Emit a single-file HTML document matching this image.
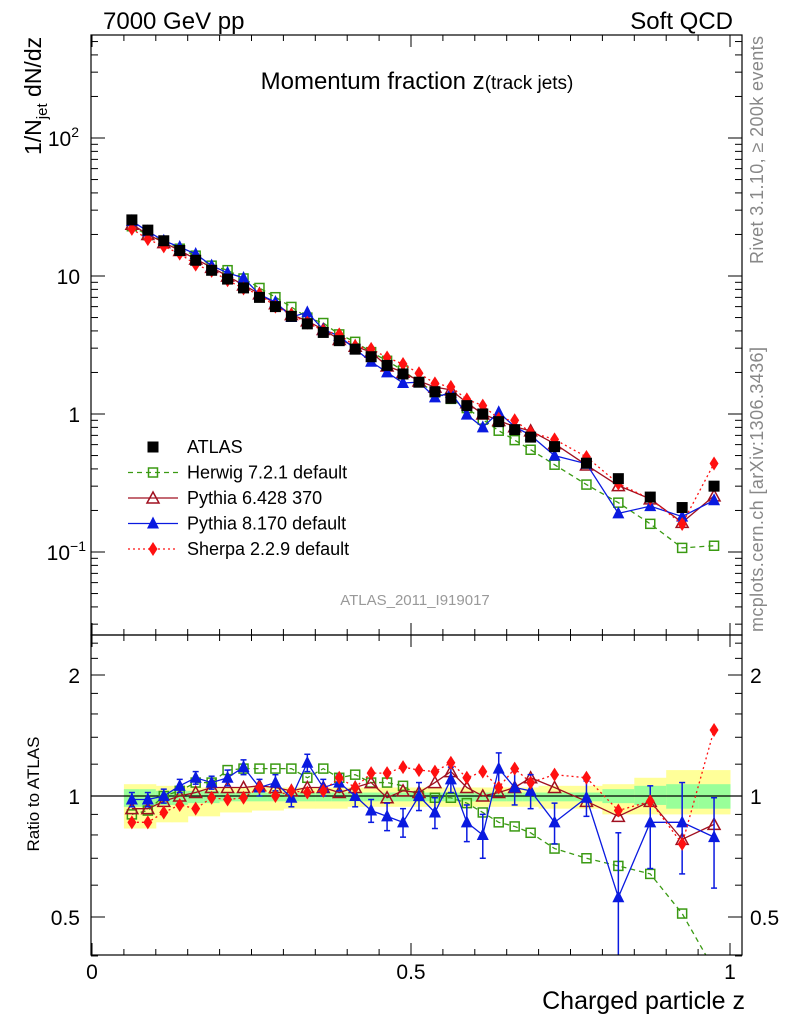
<!DOCTYPE html>
<html><head><meta charset="utf-8"><style>
html,body{margin:0;padding:0;background:#fff}
svg{display:block;font-family:"Liberation Sans",sans-serif}
</style></head><body>
<svg id="c" width="786" height="1024" viewBox="0 0 786 1024" xmlns="http://www.w3.org/2000/svg">
<text x="103" y="29" font-size="24">7000 GeV pp</text>
<text x="733" y="29" font-size="24" text-anchor="end">Soft QCD</text>
<text x="417" y="89" font-size="24" text-anchor="middle">Momentum fraction z<tspan font-size="19">(track jets)</tspan></text>
<text transform="translate(41,155) rotate(-90)" font-size="23">1/N<tspan font-size="15" dy="6">jet</tspan><tspan dy="-6"> dN/dz</tspan></text>
<text transform="translate(39,794) rotate(-90)" font-size="17" text-anchor="middle">Ratio to ATLAS</text>
<text transform="translate(763,36) rotate(-90)" font-size="18" fill="#888" text-anchor="end" textLength="228">Rivet 3.1.10, ≥ 200k events</text>
<text transform="translate(763,632) rotate(-90)" font-size="18" fill="#888" textLength="285">mcplots.cern.ch [arXiv:1306.3436]</text>
<text x="415" y="605" font-size="15" fill="#999" text-anchor="middle">ATLAS_2011_I919017</text>
<text x="745" y="1009" font-size="25" text-anchor="end">Charged particle z</text>
<g id="bands"></g><g id="series"></g><g id="axes"></g><g id="legend"></g>
</svg>
<script>
const zVals=[0.0625,0.0875,0.1125,0.1375,0.1625,0.1875,0.2125,0.2375,0.2625,0.2875,0.3125,0.3375,0.3625,0.3875,0.4125,0.4375,0.4625,0.4875,0.5125,0.5375,0.5625,0.5875,0.6125,0.6375,0.6625,0.6875,0.725,0.775,0.825,0.875,0.925,0.975];
const binLo=[0.05,0.075,0.1,0.125,0.15,0.175,0.2,0.225,0.25,0.275,0.3,0.325,0.35,0.375,0.4,0.425,0.45,0.475,0.5,0.525,0.55,0.575,0.6,0.625,0.65,0.675,0.7,0.75,0.8,0.85,0.9,0.95];
const binHi=[0.075,0.1,0.125,0.15,0.175,0.2,0.225,0.25,0.275,0.3,0.325,0.35,0.375,0.4,0.425,0.45,0.475,0.5,0.525,0.55,0.575,0.6,0.625,0.65,0.675,0.7,0.75,0.8,0.85,0.9,0.95,1.0];
const atlas=[25.5,21.5,18,15.3,13,11,9.5,8.2,7.0,6.0,5.1,4.5,3.9,3.4,2.95,2.6,2.25,1.95,1.7,1.45,1.3,1.15,1.0,0.88,0.77,0.68,0.58,0.44,0.34,0.25,0.21,0.30];
const herwigR=[0.90,0.92,1.0,1.03,1.08,1.08,1.16,1.17,1.17,1.17,1.17,1.11,1.17,1.11,1.13,1.08,1.08,1.06,1.0,0.99,0.99,0.96,0.91,0.86,0.84,0.81,0.74,0.70,0.67,0.64,0.51,0.37];
const py6R=[0.93,0.93,0.97,1.0,1.02,1.05,1.05,1.05,1.06,1.05,1.03,1.05,1.05,1.02,1.05,1.08,0.99,1.03,1.02,1.08,1.15,1.05,1.0,1.02,1.05,1.11,1.05,0.97,0.89,0.97,0.78,0.85];
const py8R=[0.98,0.98,1.0,1.06,1.11,1.08,1.11,1.18,1.05,1.08,0.99,1.21,1.05,1.08,1.0,0.92,0.89,0.86,1.0,0.91,1.1,0.86,0.8,1.17,1.05,1.03,0.86,0.99,0.56,0.86,0.86,0.79];
const py8E=[0.04,0.04,0.04,0.04,0.04,0.04,0.05,0.05,0.05,0.05,0.05,0.06,0.05,0.05,0.06,0.06,0.07,0.07,0.08,0.08,0.08,0.09,0.1,0.11,0.1,0.1,0.1,0.1,0.25,0.2,0.22,0.2];
const sherpaR=[0.86,0.86,0.91,0.95,0.93,0.99,0.98,0.99,1.05,1.0,1.03,1.02,1.03,1.11,1.05,1.14,1.14,1.18,1.16,1.15,1.21,1.11,1.15,1.05,1.17,1.08,1.13,1.11,0.92,0.97,0.76,1.46];
const yellowLo=[0.83,0.83,0.86,0.86,0.89,0.89,0.91,0.91,0.92,0.92,0.93,0.93,0.93,0.93,0.94,0.94,0.94,0.94,0.94,0.94,0.94,0.94,0.94,0.94,0.94,0.94,0.93,0.93,0.9,0.9,0.9,0.9];
const yellowHi=[1.07,1.07,1.06,1.06,1.05,1.05,1.05,1.05,1.05,1.05,1.05,1.05,1.05,1.05,1.05,1.05,1.05,1.05,1.05,1.05,1.05,1.05,1.05,1.05,1.05,1.05,1.06,1.06,1.07,1.11,1.16,1.16];
const greenLo=[0.94,0.94,0.95,0.95,0.96,0.96,0.97,0.97,0.97,0.97,0.97,0.97,0.97,0.97,0.97,0.97,0.97,0.97,0.97,0.97,0.97,0.97,0.97,0.97,0.97,0.97,0.97,0.97,0.96,0.95,0.93,0.93];
const greenHi=[1.04,1.04,1.03,1.03,1.03,1.03,1.02,1.02,1.02,1.02,1.02,1.02,1.02,1.02,1.02,1.02,1.02,1.02,1.02,1.02,1.02,1.02,1.02,1.02,1.02,1.02,1.02,1.02,1.04,1.06,1.07,1.07];
const legendLabels=["ATLAS","Herwig 7.2.1 default","Pythia 6.428 370","Pythia 8.170 default","Sherpa 2.2.9 default"];

const NS="http://www.w3.org/2000/svg";
const X0=91,X1=742,T=35,MB=635,RB=955;
const xs=z=>92+z*638;
const ys=v=>414-138*Math.log10(v);
const yr=r=>796-121*Math.log2(r);
function mk(tag,attrs,parent){const e=document.createElementNS(NS,tag);for(const k in attrs)e.setAttribute(k,attrs[k]);parent.appendChild(e);return e;}
const bands=document.getElementById('bands'),ser=document.getElementById('series'),axes=document.getElementById('axes'),leg=document.getElementById('legend');

for(let i=0;i<zVals.length;i++){
 let r=mk('rect',{x:xs(binLo[i]),y:yr(yellowHi[i]),width:xs(binHi[i])-xs(binLo[i])+0.5,height:yr(yellowLo[i])-yr(yellowHi[i]),fill:'#ffff99'},bands);
 
 
 let g=mk('rect',{x:xs(binLo[i]),y:yr(greenHi[i]),width:xs(binHi[i])-xs(binLo[i])+0.5,height:yr(greenLo[i])-yr(greenHi[i]),fill:'#99ff99'},bands);
 
 
}
let one=mk('line',{x1:X0,x2:X1,y1:yr(1),y2:yr(1),stroke:'#000','stroke-width':1.3},bands);



function marker(type,cx,cy,color,g){
 let e;const s=5.5;
 if(type==='sq')e=mk('rect',{x:cx-s,y:cy-s,width:2*s,height:2*s,fill:'#000'},g);
 else if(type==='osq')e=mk('rect',{x:cx-4.5,y:cy-4.5,width:9,height:9,fill:'none',stroke:color,'stroke-width':1.5},g);
 else if(type==='otri')e=mk('polygon',{points:`${cx},${cy-6} ${cx-6},${cy+5} ${cx+6},${cy+5}`,fill:'none',stroke:color,'stroke-width':1.5},g);
 else if(type==='tri')e=mk('polygon',{points:`${cx},${cy-7} ${cx-6},${cy+5} ${cx+6},${cy+5}`,fill:color},g);
 else e=mk('polygon',{points:`${cx},${cy-7} ${cx-4.5},${cy} ${cx},${cy+7} ${cx+4.5},${cy}`,fill:color},g);
 return e;
}
const models=[
 {name:'herwig',r:herwigR,c:'#3a9a12',m:'osq',dash:'5,4'},
 {name:'pythia6',r:py6R,c:'#a01020',m:'otri',dash:''},
 {name:'pythia8',r:py8R,c:'#0a1ae0',m:'tri',dash:'',err:py8E},
 {name:'sherpa',r:sherpaR,c:'#ff1010',m:'dia',dash:'2,3'}];
const clip=mk('clipPath',{id:'cr'},axes.parentNode);mk('rect',{x:X0,y:MB,width:X1-X0,height:RB-MB},clip);
const clipM=mk('clipPath',{id:'cm'},axes.parentNode);mk('rect',{x:X0,y:T,width:X1-X0,height:MB-T},clipM);
for(const md of models){
 const gm=mk('g',{'clip-path':'url(#cm)'},ser);
 
 
 const gr=mk('g',{'clip-path':'url(#cr)'},ser);
 
 
 const pm=zVals.map((z,i)=>xs(z)+','+ys(atlas[i]*md.r[i])).join(' ');
 const pr=zVals.map((z,i)=>xs(z)+','+yr(md.r[i])).join(' ');
 mk('polyline',{points:pm,fill:'none',stroke:md.c,'stroke-width':1.3,'stroke-dasharray':md.dash},gm);
 mk('polyline',{points:pr,fill:'none',stroke:md.c,'stroke-width':1.3,'stroke-dasharray':md.dash},gr);
 zVals.forEach((z,i)=>{
  if(md.err){const e=md.err[i];
   mk('line',{x1:xs(z),x2:xs(z),y1:yr(md.r[i]+e),y2:yr(md.r[i]-e),stroke:md.c,'stroke-width':1.5},gr);
   mk('line',{x1:xs(z)-3,x2:xs(z)+3,y1:yr(md.r[i]+e),y2:yr(md.r[i]+e),stroke:md.c,'stroke-width':1.5},gr);
   mk('line',{x1:xs(z)-3,x2:xs(z)+3,y1:yr(md.r[i]-e),y2:yr(md.r[i]-e),stroke:md.c,'stroke-width':1.5},gr);}
  const a=marker(md.m,xs(z),ys(atlas[i]*md.r[i]),md.c,gm);
  
  
  const b=marker(md.m,xs(z),yr(md.r[i]),md.c,gr);
  
  
 });
}
const ga=mk('g',{},ser);


zVals.forEach((z,i)=>{const p=marker('sq',xs(z),ys(atlas[i]),'#000',ga);
 
 });

for(const [y1,y2,nm] of [[T,MB,'main-frame'],[MB,RB,'ratio-frame']]){
 const f=mk('rect',{x:X0,y:y1,width:X1-X0,height:y2-y1,fill:'none',stroke:'#000','stroke-width':1.2},axes);
 
 
}
for(let k=0;k<=20;k++){const z=k*0.05;const x=xs(z);const L=(k%10===0)?12:6;
 for(const [yy,d] of [[T,1],[MB,-1],[MB,1],[RB,-1]]) mk('line',{x1:x,x2:x,y1:yy,y2:yy+d*L,stroke:'#000'},axes);}
[['0',0],['0.5',0.5],['1',1]].forEach(([t,z])=>{const e=mk('text',{x:xs(z),y:979,'font-size':21,'text-anchor':'middle'},axes);e.textContent=t;
 
 });
for(let d=-2;d<=2;d++)for(let m=1;m<10;m++){const v=m*Math.pow(10,d);const y=ys(v);if(y<T||y>MB)continue;const L=m===1?14:7;
 mk('line',{x1:X0,x2:X0+L,y1:y,y2:y,stroke:'#000'},axes);mk('line',{x1:X1,x2:X1-L,y1:y,y2:y,stroke:'#000'},axes);}
const yl=[[0.1,'10','−1'],[1,'1',''],[10,'10',''],[100,'10','2']];
yl.forEach(([v,b,s])=>{const e=mk('text',{x:80,y:ys(v)+8,'font-size':21,'text-anchor':'end'},axes);e.textContent=b;
 if(s){const t=mk('tspan',{dy:-9,'font-size':14},e);t.textContent=s;e.setAttribute('x',s==='2'?79:86);}
 
 });
const rt=[0.4,0.5,0.6,0.7,0.8,0.9,1,1.2,1.4,1.6,1.8,2,2.2,2.4];
rt.forEach(r=>{const y=yr(r);const L=(r===0.5||r===1||r===2)?14:7;
 mk('line',{x1:X0,x2:X0+L,y1:y,y2:y,stroke:'#000'},axes);mk('line',{x1:X1,x2:X1-L,y1:y,y2:y,stroke:'#000'},axes);});
[['2',2],['1',1],['0.5',0.5]].forEach(([t,r])=>{for(const [x,a] of [[80,'end'],[750,'start']]){const e=mk('text',{x:x,y:yr(r)+8,'font-size':21,'text-anchor':a},axes);e.textContent=t;
 
 }});
const lt=['sq','osq','otri','tri','dia'],lc=['#000','#3a9a12','#a01020','#0a1ae0','#ff1010'],ld=['','5,4','','','2,3'];
legendLabels.forEach((t,i)=>{const y=447+i*25.5;const g=mk('g',{},leg);
 
 
 if(i>0)mk('line',{x1:128,x2:178,y1:y,y2:y,stroke:lc[i],'stroke-width':1.3,'stroke-dasharray':ld[i]},g);
 marker(lt[i],153,y,lc[i],g);
 const e=mk('text',{x:187,y:y+6,'font-size':18},g);e.textContent=t;});
</script>
</body></html>
